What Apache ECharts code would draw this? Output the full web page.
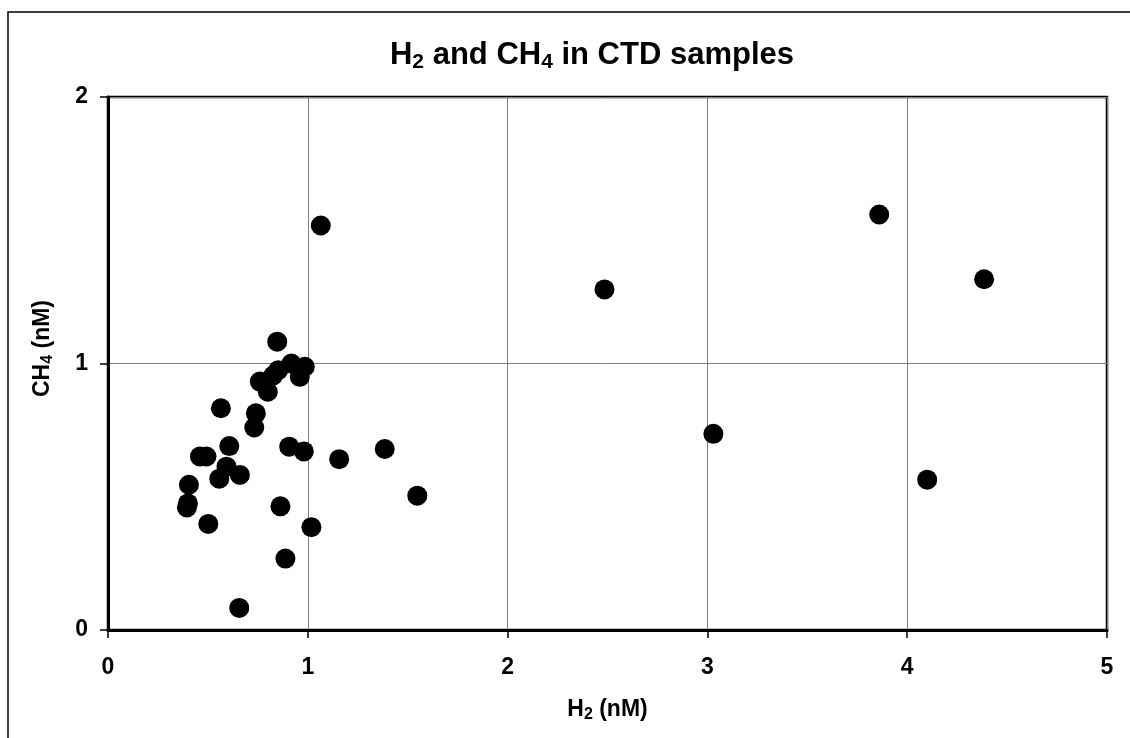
<!DOCTYPE html>
<html>
<head>
<meta charset="utf-8">
<script src="https://cdn.jsdelivr.net/npm/echarts@6/dist/echarts.min.js"></script>
<style>
  html, body { margin: 0; padding: 0; background: #fff; }
  #chart { width: 1130px; height: 738px; }
</style>
</head>
<body>
<div id="chart"></div>
<script>
// H2 (nM) and CH4 (nM) for each CTD sample
var h2Values = [0.847, 0.918, 0.985, 0.96, 0.852, 0.76, 0.827, 0.80, 0.565, 0.74,
  0.732, 0.607, 0.46, 0.493, 0.907, 0.98, 1.157, 0.593, 0.66, 0.557,
  0.405, 0.40, 0.395, 0.863, 0.502, 1.018, 0.888, 0.657, 1.065, 1.385,
  1.548, 2.485, 3.03, 3.86, 4.385, 4.10]
var ch4Values = [1.082, 1.0, 0.988, 0.95, 0.975, 0.932, 0.955, 0.894, 0.832, 0.813,
  0.76, 0.69, 0.651, 0.651, 0.688, 0.67, 0.641, 0.613, 0.582, 0.568,
  0.545, 0.475, 0.46, 0.464, 0.398, 0.386, 0.268, 0.083, 1.518, 0.679,
  0.504, 1.278, 0.736, 1.559, 1.316, 0.564]
var xTicks = [0, 1, 2, 3, 4, 5]
var yTicks = [0, 1, 2]

var points = []
h2Values.forEach(function (h, i) {
  points.push([h, ch4Values[i]])
})

var fontFam = '"Liberation Sans", Arial, sans-serif'
var nameRich = {
  b: { fontSize: 23, fontWeight: 'bold', fontFamily: fontFam, color: '#000' },
  s: { fontSize: 16, fontWeight: 'bold', fontFamily: fontFam, color: '#000', padding: [11, 0, 0, 0] }
}

var myChart = echarts.init(document.getElementById('chart'))
myChart.setOption({
  animation: false,
  backgroundColor: '#fff',
  graphic: [{
    type: 'rect',
    shape: { x: 8, y: 12, width: 1140, height: 740 },
    style: { fill: 'none', stroke: '#000', lineWidth: 1.5 },
    silent: true
  }],
  title: {
    text: '{b|H}{s|2}{b| and CH}{s|4}{b| in CTD samples}',
    left: 587,
    textAlign: 'center',
    top: 33,
    textStyle: {
      rich: {
        b: { fontSize: 31, fontWeight: 'bold', fontFamily: fontFam, color: '#000' },
        s: { fontSize: 21, fontWeight: 'bold', fontFamily: fontFam, color: '#000', padding: [14, 0, 0, 0] }
      }
    }
  },
  grid: {
    left: 108,
    right: 23,
    top: 97,
    bottom: 108,
    show: true,
    borderColor: '#000',
    borderWidth: 2.5
  },
  xAxis: {
    type: 'value',
    min: xTicks[0],
    max: xTicks[xTicks.length - 1],
    interval: 1,
    name: '{b|H}{s|2}{b| (nM)}',
    nameLocation: 'middle',
    nameGap: 66,
    nameTextStyle: { rich: nameRich },
    axisLine: { show: true, lineStyle: { color: '#000', width: 3 } },
    axisTick: { show: true, length: 8, lineStyle: { color: '#000', width: 1.5 } },
    axisLabel: { margin: 26, fontSize: 23, fontWeight: 'bold', fontFamily: fontFam, color: '#000' },
    splitLine: { show: true, lineStyle: { color: '#808080', width: 1 } }
  },
  yAxis: {
    type: 'value',
    min: yTicks[0],
    max: yTicks[yTicks.length - 1],
    interval: 1,
    name: '{b|CH}{s|4}{b| (nM)}',
    nameLocation: 'middle',
    nameGap: 52,
    nameTextStyle: { rich: nameRich, padding: [0, 0, 0, 30] },
    axisLine: { show: true, lineStyle: { color: '#000', width: 3 } },
    axisTick: { show: true, length: 8, lineStyle: { color: '#000', width: 1.5 } },
    axisLabel: { margin: 20, fontSize: 23, fontWeight: 'bold', fontFamily: fontFam, color: '#000' },
    splitLine: { show: true, lineStyle: { color: '#808080', width: 1 } }
  },
  series: [{
    name: 'CTD',
    type: 'scatter',
    symbol: 'circle',
    symbolSize: 20,
    itemStyle: { color: '#000', opacity: 1 },
    data: points
  }]
})
</script>
</body>
</html>
